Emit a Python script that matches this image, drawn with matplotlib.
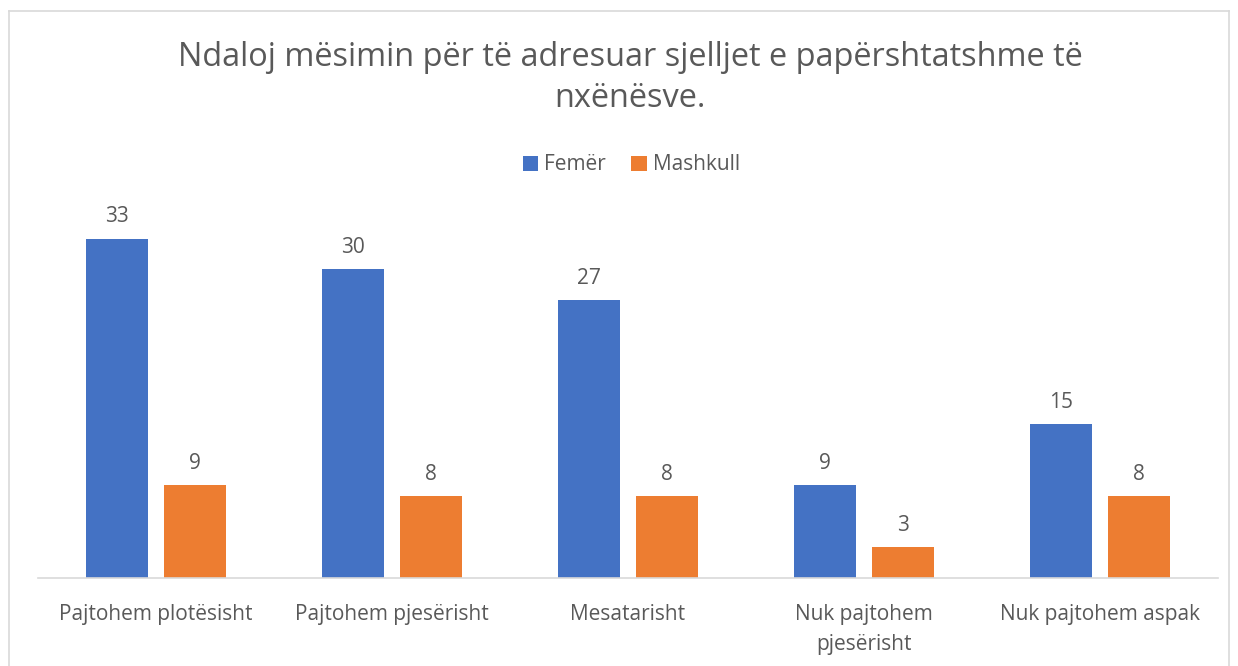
import numpy as np
import matplotlib.pyplot as plt
from matplotlib.lines import Line2D

categories = ['Pajtohem plotësisht', 'Pajtohem pjesërisht', 'Mesatarisht',
              'Nuk pajtohem\npjesërisht', 'Nuk pajtohem aspak']
femer = [33, 30, 27, 9, 15]
mashkull = [9, 8, 8, 3, 8]

plt.rcParams['font.family'] = ['Open Sans', 'DejaVu Sans']
txt = '#595959'

fig = plt.figure(figsize=(12.38, 6.66), dpi=100)
W, H = 1238, 666
# axes placed in pixel terms: x 38..1218, baseline at y=578
ax = fig.add_axes([38 / W, (H - 578) / H, 1180 / W, 360 / H])

x = np.arange(len(categories))
w = 0.263
b1 = ax.bar(x - 0.166, femer, w, color='#4472C4', label='Femër')
b2 = ax.bar(x + 0.166, mashkull, w, color='#ED7D31', label='Mashkull')
ax.bar_label(b1, padding=8, fontsize=15, color=txt)
ax.bar_label(b2, padding=8, fontsize=15, color=txt)

ax.set_xlim(-0.5, 4.5)
ax.set_ylim(0, 35)
ax.set_yticks([])
ax.set_xticks(x)
ax.set_xticklabels(categories, fontsize=15, color=txt, linespacing=1.55)
ax.tick_params(axis='x', length=0, pad=19)
for s in ['top', 'right', 'left']:
    ax.spines[s].set_visible(False)
ax.spines['bottom'].set_color('#D9D9D9')
ax.spines['bottom'].set_linewidth(1.2)

fig.text(0.509, (H - 78) / H, 'Ndaloj mësimin për të adresuar sjelljet e papërshtatshme të\nnxënësve.',
         ha='center', va='center', fontsize=23.4, color=txt, linespacing=1.35)
fig.legend(loc='center', bbox_to_anchor=(0.51, (H - 165) / H), ncol=2, frameon=False,
           fontsize=15, labelcolor=txt, handlelength=0.75, handleheight=0.75,
           handletextpad=0.3, columnspacing=1.2)

# chart border
fig.add_artist(Line2D([9 / W, 9 / W], [0, (H - 11) / H], color='#D9D9D9', lw=1.2))
fig.add_artist(Line2D([9 / W, 1229 / W], [(H - 11) / H, (H - 11) / H], color='#D9D9D9', lw=1.2))
fig.add_artist(Line2D([1229 / W, 1229 / W], [0, (H - 11) / H], color='#D9D9D9', lw=1.2))

plt.savefig('out.png', dpi=100)
